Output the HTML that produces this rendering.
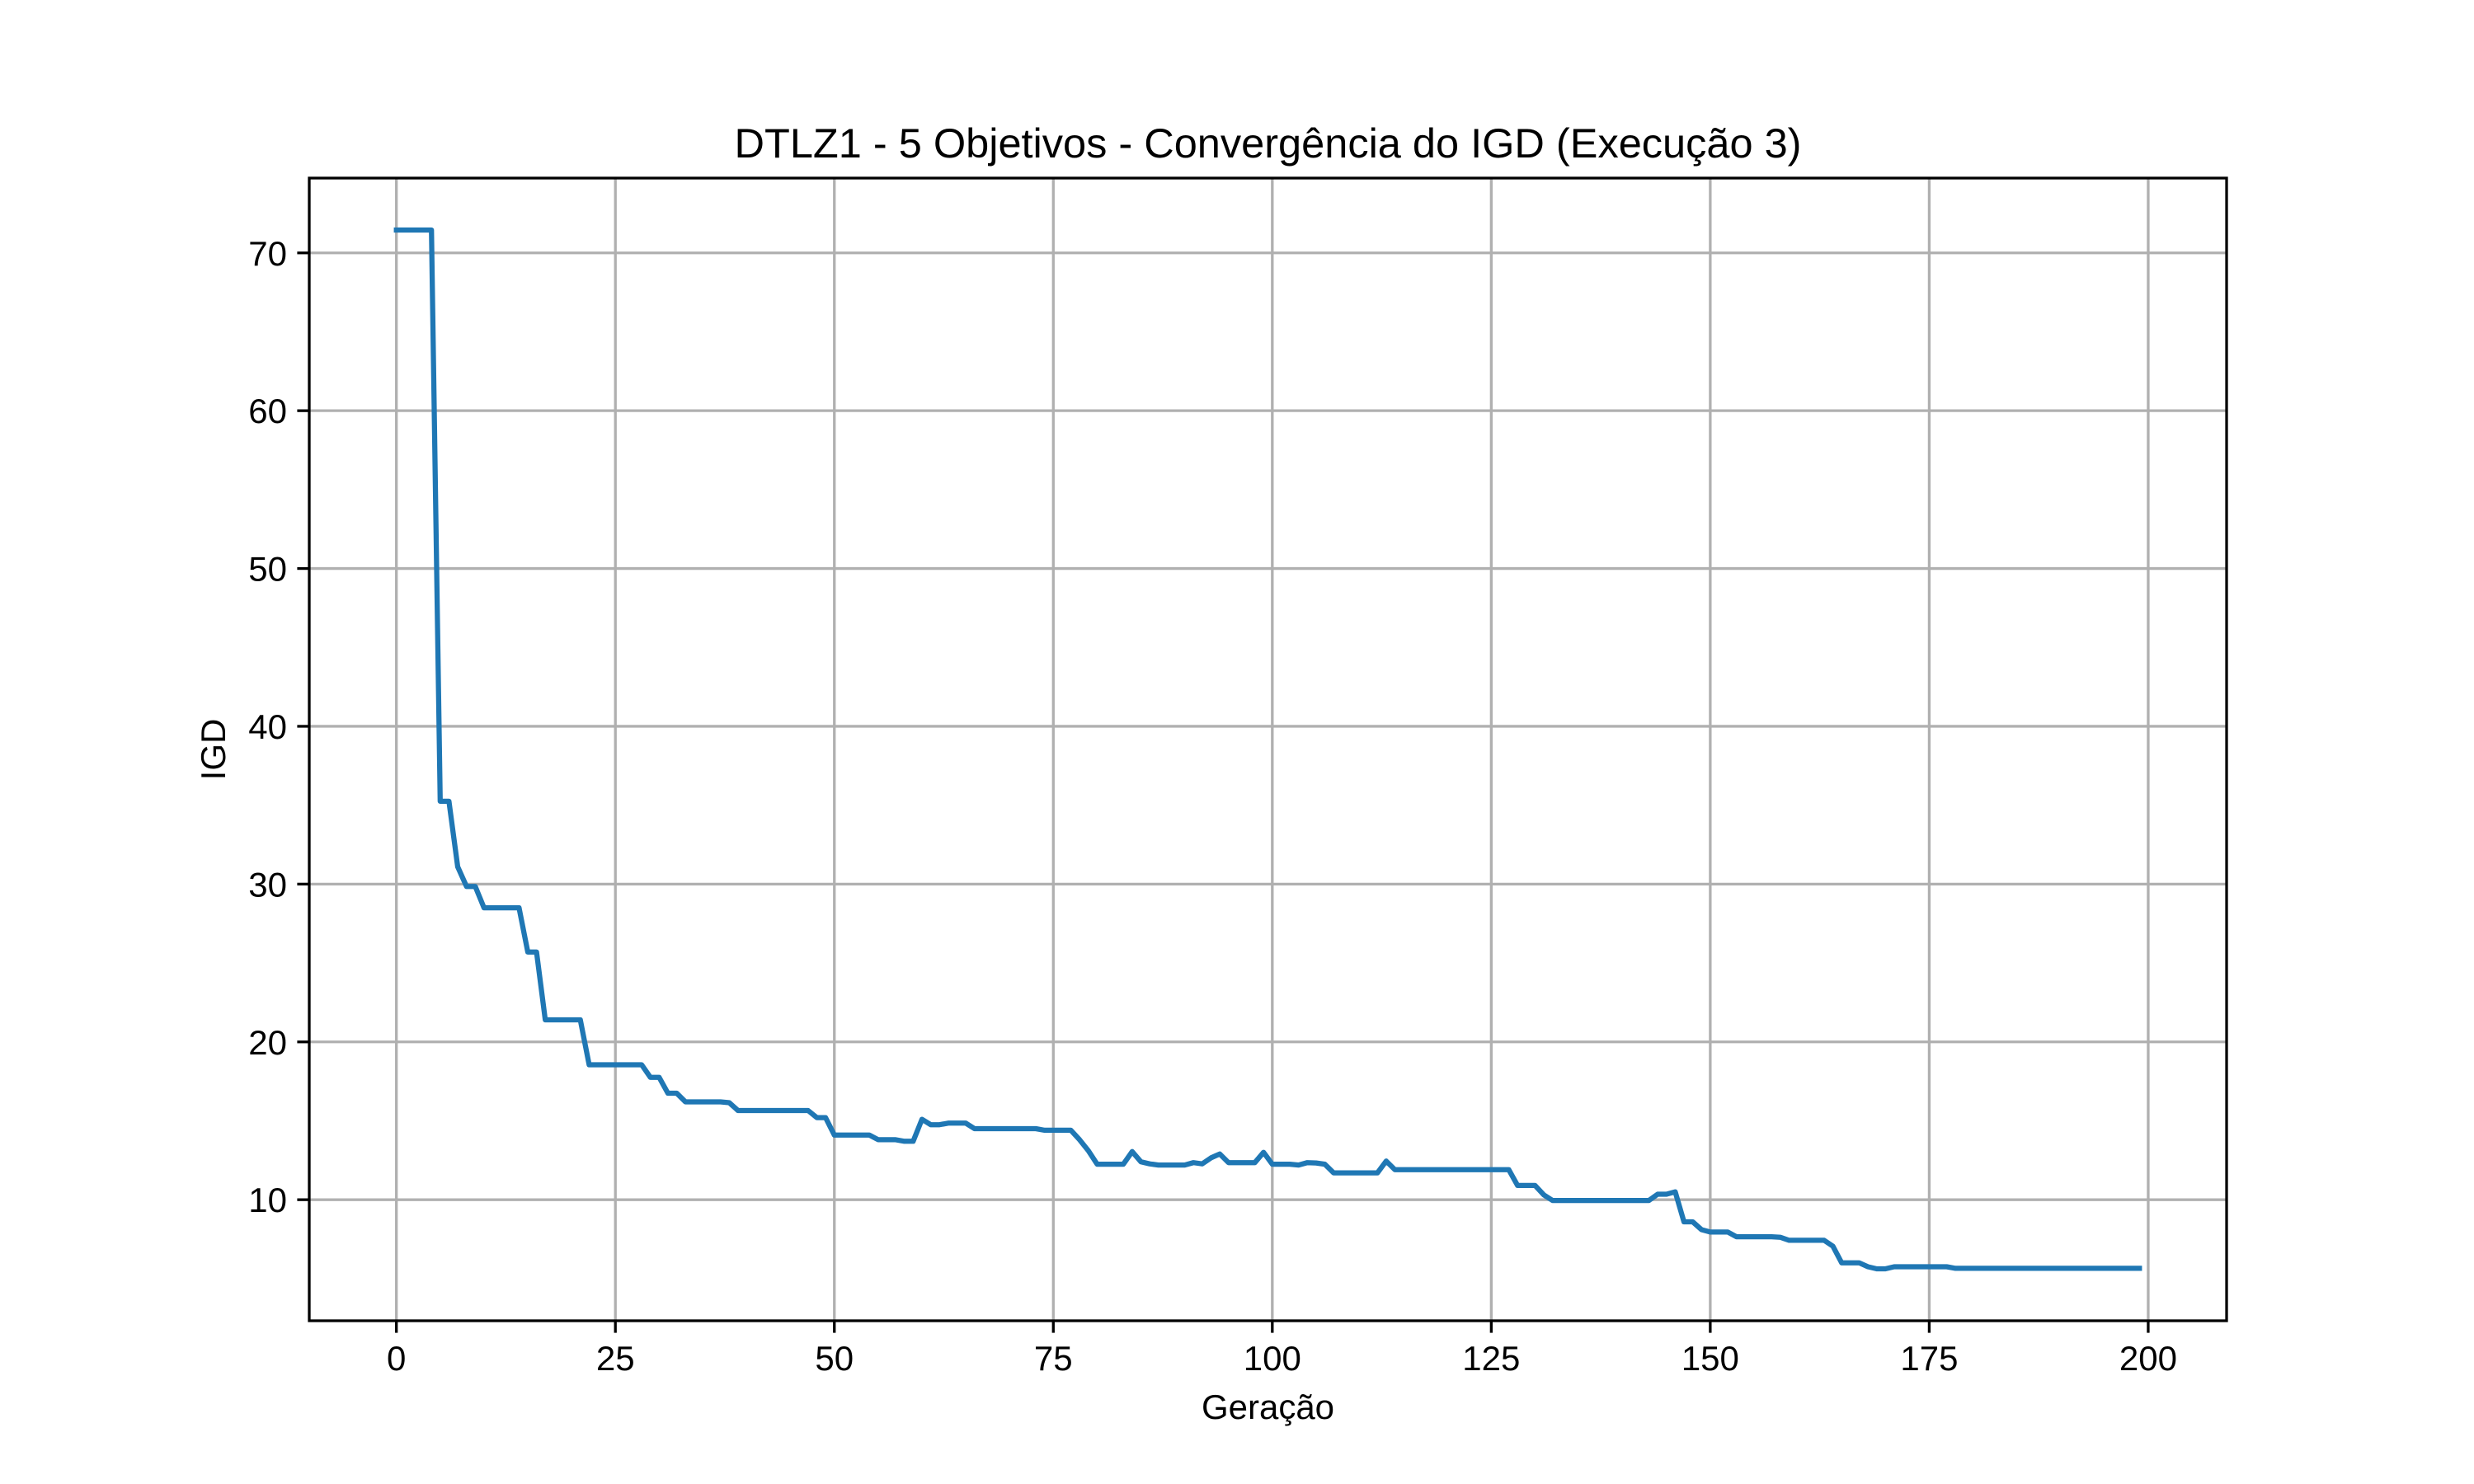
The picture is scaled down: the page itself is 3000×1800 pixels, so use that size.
<!DOCTYPE html>
<html><head><meta charset="utf-8"><style>
html,body{margin:0;padding:0;background:#fff}
svg{display:block}
text{font-family:"Liberation Sans","DejaVu Sans",sans-serif;fill:#000}
</style></head>
<body>
<svg id="chart" width="3000" height="1800" viewBox="0 0 3000 1800" xmlns="http://www.w3.org/2000/svg">
<rect width="3000" height="1800" fill="#fff"/>
<g id="grid"></g>
<g id="series"></g>
<g id="axes"></g>
<text x="1537.5" y="191" font-size="50" text-anchor="middle" textLength="1294" lengthAdjust="spacingAndGlyphs">DTLZ1 - 5 Objetivos - Convergência do IGD (Execução 3)</text>
<text x="1537.5" y="1721" font-size="42" text-anchor="middle">Geração</text>
<text x="0" y="0" font-size="42" text-anchor="middle" transform="translate(273,909) rotate(-90)">IGD</text>
</svg>
<script>
const xTicks = [0, 25, 50, 75, 100, 125, 150, 175, 200];
const yTicks = [10, 20, 30, 40, 50, 60, 70];
const igdValues = [
71.45,71.45,71.45,71.45,71.45,35.25,35.25,31.1,29.85,29.85,
28.5,28.5,28.5,28.5,28.5,25.7,25.7,21.4,21.4,21.4,
21.4,21.4,18.55,18.55,18.55,18.55,18.55,18.55,18.55,17.75,
17.75,16.75,16.75,16.2,16.2,16.2,16.2,16.2,16.15,15.65,
15.65,15.65,15.65,15.65,15.65,15.65,15.65,15.65,15.2,15.2,
14.1,14.1,14.1,14.1,14.1,13.8,13.8,13.8,13.7,13.7,
15.1,14.75,14.75,14.85,14.85,14.85,14.5,14.5,14.5,14.5,
14.5,14.5,14.5,14.5,14.4,14.4,14.4,14.4,13.8,13.1,
12.25,12.25,12.25,12.25,13.05,12.4,12.27,12.2,12.2,12.2,
12.2,12.35,12.27,12.65,12.9,12.35,12.35,12.35,12.35,13.0,
12.25,12.25,12.25,12.2,12.35,12.33,12.25,11.7,11.7,11.7,
11.7,11.7,11.7,12.45,11.9,11.9,11.9,11.9,11.9,11.9,
11.9,11.9,11.9,11.9,11.9,11.9,11.9,11.9,10.9,10.9,
10.9,10.3,9.95,9.95,9.95,9.95,9.95,9.95,9.95,9.95,
9.95,9.95,9.95,9.95,10.35,10.35,10.5,8.6,8.6,8.1,
7.95,7.95,7.95,7.65,7.65,7.65,7.65,7.65,7.62,7.43,
7.43,7.43,7.43,7.43,7.05,6.0,6.0,6.0,5.75,5.62,
5.62,5.75,5.75,5.75,5.75,5.75,5.75,5.75,5.65,5.65,
5.65,5.65,5.65,5.65,5.65,5.65,5.65,5.65,5.65,5.65,
5.65,5.65,5.65,5.65,5.65,5.65,5.65,5.65,5.65,5.65
];

const NS = "http://www.w3.org/2000/svg";
const L = 375, R = 2700, T = 216, B = 1602;
const n = igdValues.length;
const xMin = 0 - 0.05 * (n - 1), xMax = (n - 1) + 0.05 * (n - 1);
const vMax = Math.max(...igdValues), vMin = Math.min(...igdValues);
const yPad = 0.05 * (vMax - vMin);
const yLo = vMin - yPad, yHi = vMax + yPad;
function xs(v){ return L + (v - xMin) / (xMax - xMin) * (R - L); }
function ys(v){ return B - (v - yLo) / (yHi - yLo) * (B - T); }
function mk(tag, attrs, parent){
  const e = document.createElementNS(NS, tag);
  for (const k in attrs) e.setAttribute(k, attrs[k]);
  parent.appendChild(e);
  return e;
}
const grid = document.getElementById('grid');
const axes = document.getElementById('axes');
const series = document.getElementById('series');

xTicks.forEach(t => {
  const x = xs(t);
  const g = mk('line', {x1:x, x2:x, y1:T, y2:B, stroke:'#b0b0b0', 'stroke-width':3.3}, grid);
  
  
  const tk = mk('line', {x1:x, x2:x, y1:B, y2:B+14.6, stroke:'#000', 'stroke-width':3.3}, axes);
  
  
  const lb = mk('text', {x:x, y:B+60, 'font-size':42, 'text-anchor':'middle'}, axes);
  lb.textContent = String(t);
  
  
});
yTicks.forEach(t => {
  const y = ys(t);
  const g = mk('line', {x1:L, x2:R, y1:y, y2:y, stroke:'#b0b0b0', 'stroke-width':3.3}, grid);
  
  
  const tk = mk('line', {x1:L-14.6, x2:L, y1:y, y2:y, stroke:'#000', 'stroke-width':3.3}, axes);
  
  
  const lb = mk('text', {x:L-27, y:y+15, 'font-size':42, 'text-anchor':'end'}, axes);
  lb.textContent = String(t);
  
  
});

const pts = igdValues.map((v, i) => xs(i).toFixed(1) + ',' + ys(v).toFixed(1)).join(' ');
const line = mk('polyline', {points:pts, fill:'none', stroke:'#1f77b4', 'stroke-width':6.25, 'stroke-linejoin':'round', 'stroke-linecap':'square'}, series);



const frame = mk('rect', {x:L, y:T, width:R-L, height:B-T, fill:'none', stroke:'#000', 'stroke-width':3.3}, axes);


</script>
</body></html>
